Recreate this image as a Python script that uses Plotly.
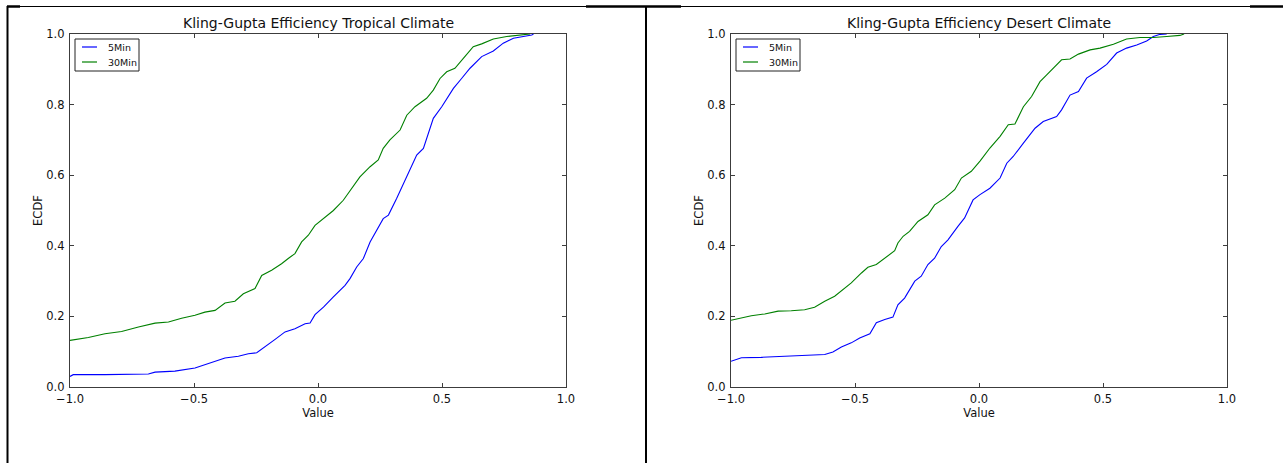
import plotly.graph_objects as go

W, H = 1283, 463

# ---------------- data ----------------
trop_30_x = [-1.0, -0.926, -0.859, -0.792, -0.724, -0.657, -0.603, -0.550, -0.496, -0.456,
             -0.415, -0.375, -0.335, -0.301, -0.254, -0.227, -0.187, -0.147, -0.120, -0.093,
             -0.066, -0.039, -0.012, 0.028, 0.062, 0.102, 0.136, 0.169, 0.210, 0.243,
             0.263, 0.290, 0.331, 0.358, 0.391, 0.438, 0.465, 0.492, 0.519, 0.552,
             0.586, 0.626, 0.660, 0.707, 0.761, 0.815, 0.855]
trop_30_y = [0.132, 0.140, 0.151, 0.157, 0.170, 0.181, 0.184, 0.195, 0.203, 0.212,
             0.217, 0.238, 0.243, 0.264, 0.279, 0.316, 0.331, 0.349, 0.364, 0.378,
             0.411, 0.430, 0.458, 0.482, 0.500, 0.529, 0.562, 0.595, 0.624, 0.643,
             0.676, 0.700, 0.728, 0.770, 0.794, 0.818, 0.841, 0.874, 0.893, 0.903,
             0.931, 0.964, 0.972, 0.986, 0.993, 0.997, 1.0]

trop_5_x = [-1.0, -0.987, -0.859, -0.684, -0.657, -0.577, -0.496, -0.442, -0.375, -0.321,
            -0.281, -0.247, -0.214, -0.173, -0.133, -0.093, -0.052, -0.032, -0.012, 0.022,
            0.062, 0.109, 0.129, 0.156, 0.183, 0.210, 0.263, 0.284, 0.317, 0.358,
            0.398, 0.425, 0.465, 0.499, 0.546, 0.579, 0.613, 0.660, 0.707, 0.747,
            0.788, 0.862, 0.869]
trop_5_y = [0.030, 0.035, 0.035, 0.037, 0.042, 0.045, 0.054, 0.066, 0.082, 0.087,
            0.094, 0.097, 0.113, 0.135, 0.156, 0.165, 0.179, 0.181, 0.205, 0.226,
            0.255, 0.288, 0.307, 0.340, 0.364, 0.411, 0.477, 0.487, 0.534, 0.595,
            0.657, 0.676, 0.761, 0.794, 0.846, 0.874, 0.903, 0.936, 0.952, 0.974,
            0.988, 0.997, 1.0]

des_30_x = [-1.0, -0.958, -0.918, -0.864, -0.810, -0.757, -0.703, -0.663, -0.622, -0.582,
            -0.548, -0.515, -0.474, -0.448, -0.414, -0.380, -0.340, -0.327, -0.306, -0.280,
            -0.246, -0.206, -0.179, -0.138, -0.098, -0.071, -0.031, 0.004, 0.044, 0.085,
            0.118, 0.145, 0.179, 0.212, 0.246, 0.273, 0.306, 0.333, 0.367, 0.401,
            0.448, 0.488, 0.542, 0.595, 0.649, 0.703, 0.757, 0.810, 0.827]
des_30_y = [0.189, 0.196, 0.202, 0.207, 0.215, 0.216, 0.219, 0.226, 0.243, 0.257,
            0.276, 0.295, 0.323, 0.339, 0.347, 0.365, 0.386, 0.408, 0.427, 0.441,
            0.469, 0.488, 0.516, 0.535, 0.559, 0.592, 0.611, 0.640, 0.677, 0.710,
            0.743, 0.745, 0.794, 0.823, 0.865, 0.884, 0.908, 0.927, 0.929, 0.943,
            0.955, 0.960, 0.971, 0.986, 0.990, 0.990, 0.993, 0.996, 1.0]

des_5_x = [-1.0, -0.958, -0.878, -0.770, -0.690, -0.622, -0.589, -0.555, -0.515, -0.481,
           -0.440, -0.414, -0.380, -0.347, -0.327, -0.300, -0.259, -0.233, -0.206, -0.179,
           -0.152, -0.125, -0.085, -0.058, -0.024, 0.004, 0.044, 0.085, 0.112, 0.138,
           0.179, 0.226, 0.259, 0.313, 0.333, 0.367, 0.401, 0.434, 0.474, 0.515,
           0.555, 0.595, 0.636, 0.676, 0.703, 0.730, 0.757]
des_5_y = [0.073, 0.083, 0.084, 0.087, 0.090, 0.092, 0.099, 0.113, 0.125, 0.139,
           0.151, 0.182, 0.191, 0.198, 0.233, 0.252, 0.300, 0.314, 0.347, 0.365,
           0.398, 0.417, 0.455, 0.479, 0.530, 0.545, 0.563, 0.592, 0.634, 0.653,
           0.691, 0.733, 0.752, 0.766, 0.785, 0.827, 0.837, 0.875, 0.893, 0.914,
           0.946, 0.960, 0.969, 0.980, 0.993, 0.999, 1.0]

titles = ["Kling-Gupta Efficiency Tropical Climate", "Kling-Gupta Efficiency Desert Climate"]
series_names = ["5Min", "30Min"]
x_label = "Value"
y_label = "ECDF"

# ---------------- style ----------------
FONT = "DejaVu Sans"
BLUE = "#0000ff"
GREEN = "#008000"
FRAME = "#3c3c3c"
TXT = "#111111"
series_colors = [BLUE, GREEN]


def px_x(p):
    return p / W


def px_y(p):
    return 1 - p / H


# plot-area geometry (pixels)
panels = [(70, 566), (731, 1227)]
top_px, bot_px = 34, 387

fig = go.Figure()

data = [
    (trop_5_x, trop_5_y, trop_30_x, trop_30_y),
    (des_5_x, des_5_y, des_30_x, des_30_y),
]

for i, (x5, y5, x30, y30) in enumerate(data):
    xa = "x" if i == 0 else "x2"
    ya = "y" if i == 0 else "y2"
    fig.add_trace(go.Scatter(x=x5, y=y5, mode="lines", name=series_names[0],
                             line=dict(color=BLUE, width=1.1), xaxis=xa, yaxis=ya,
                             showlegend=False, hoverinfo="skip"))
    fig.add_trace(go.Scatter(x=x30, y=y30, mode="lines", name=series_names[1],
                             line=dict(color=GREEN, width=1.1), xaxis=xa, yaxis=ya,
                             showlegend=False, hoverinfo="skip"))

axis_common = dict(
    showline=True, linecolor=FRAME, linewidth=1.3, mirror="allticks",
    ticks="inside", ticklen=4, tickwidth=1, tickcolor=FRAME,
    showgrid=False, zeroline=False, tickformat=".1f", automargin=False,
    tickfont=dict(family=FONT, size=11.5, color=TXT),
)

layout = dict(
    width=W, height=H,
    margin=dict(l=0, r=0, t=0, b=0, pad=0, autoexpand=False),
    paper_bgcolor="white", plot_bgcolor="white",
    font=dict(family=FONT, color=TXT),
    showlegend=False,
)

for i, (l, r) in enumerate(panels):
    sx = "" if i == 0 else "2"
    layout["xaxis" + sx] = dict(
        axis_common, domain=[px_x(l), px_x(r)], range=[-1, 1], dtick=0.5, tick0=-1,
        anchor="y" + sx, ticklabelstandoff=1,
        title=dict(text=x_label, font=dict(family=FONT, size=11.5, color=TXT), standoff=3),
    )
    layout["yaxis" + sx] = dict(
        axis_common, domain=[px_y(bot_px), px_y(top_px)], range=[0, 1], dtick=0.2, tick0=0,
        anchor="x" + sx, ticklabelstandoff=2,
        title=dict(text=y_label, font=dict(family=FONT, size=11.5, color=TXT), standoff=1),
    )

fig.update_layout(**layout)

# titles
for i, (l, r) in enumerate(panels):
    fig.add_annotation(text=titles[i], xref="paper", yref="paper",
                       x=px_x((l + r) / 2), y=px_y(top_px - 1), xanchor="center", yanchor="bottom",
                       showarrow=False, font=dict(family=FONT, size=14, color=TXT))

shapes = []

# legend boxes (matplotlib-style, upper left inside each axes)
for i, (l, r) in enumerate(panels):
    bx0, by0 = l + 5, top_px + 5
    bx1, by1 = bx0 + 64, by0 + 32
    shapes.append(dict(type="rect", xref="paper", yref="paper",
                       x0=px_x(bx0), x1=px_x(bx1), y0=px_y(by0), y1=px_y(by1),
                       line=dict(color="#222", width=1), fillcolor="white", layer="above"))
    for k, name in enumerate(series_names):
        yy = by0 + 8 + 15 * k
        shapes.append(dict(type="line", xref="paper", yref="paper",
                           x0=px_x(bx0 + 7), x1=px_x(bx0 + 22), y0=px_y(yy), y1=px_y(yy),
                           line=dict(color=series_colors[k], width=1.2), layer="above"))
        fig.add_annotation(text=name, xref="paper", yref="paper",
                           x=px_x(bx0 + 31), y=px_y(yy), xanchor="left", yanchor="middle",
                           showarrow=False, font=dict(family=FONT, size=9.5, color=TXT))

# Word-table borders of the original screenshot
shapes += [
    dict(type="line", xref="paper", yref="paper", x0=px_x(7), x1=1, y0=px_y(6.5), y1=px_y(6.5),
         line=dict(color="black", width=1)),
    dict(type="line", xref="paper", yref="paper", x0=px_x(7), x1=px_x(20), y0=px_y(6.5), y1=px_y(6.5),
         line=dict(color="black", width=2.5)),
    dict(type="line", xref="paper", yref="paper", x0=px_x(586), x1=px_x(681), y0=px_y(6.5), y1=px_y(6.5),
         line=dict(color="black", width=2.5)),
    dict(type="line", xref="paper", yref="paper", x0=px_x(1250), x1=1, y0=px_y(6.5), y1=px_y(6.5),
         line=dict(color="black", width=2.5)),
    dict(type="line", xref="paper", yref="paper", x0=px_x(7.5), x1=px_x(7.5), y0=px_y(6), y1=0,
         line=dict(color="black", width=2)),
    dict(type="line", xref="paper", yref="paper", x0=px_x(646), x1=px_x(646), y0=px_y(6), y1=0,
         line=dict(color="black", width=2)),
]
fig.update_layout(shapes=shapes)

fig.write_html("out.html")
